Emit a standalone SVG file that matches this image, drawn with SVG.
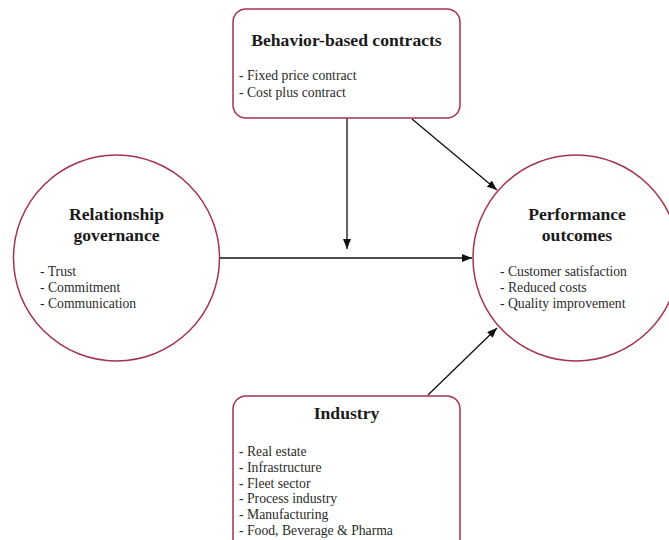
<svg xmlns="http://www.w3.org/2000/svg" width="669" height="540" viewBox="0 0 669 540">
  <defs>
    <marker id="arrow" viewBox="0 0 10 8" refX="10" refY="4" markerWidth="10" markerHeight="8" markerUnits="userSpaceOnUse" orient="auto">
      <path d="M0,0 L10,4 L0,8 Z" fill="#111"/>
    </marker>
    <style>
      .node { fill: #fff; stroke: #a3334f; stroke-width: 1.5; }
      .title { font-family: "Liberation Serif", "Times New Roman", serif; font-weight: bold; font-size: 17.6px; fill: #1a1a1a; text-anchor: middle; }
      .item { font-family: "Liberation Serif", "Times New Roman", serif; font-size: 13.7px; fill: #2a2a2a; }
      .edge { stroke: #111; stroke-width: 1.3; fill: none; marker-end: url(#arrow); }
    </style>
  </defs>
  <rect width="669" height="540" fill="#fff"/>

  <g id="connectors">
    <line class="edge" x1="347" y1="118" x2="347" y2="249"/>
    <line class="edge" x1="220" y1="258" x2="472" y2="258"/>
    <line class="edge" x1="412" y1="119" x2="497" y2="190"/>
    <line class="edge" x1="428" y1="395" x2="497" y2="328"/>
  </g>

  <g id="behavior-based-contracts">
    <rect class="node" x="233" y="9" width="227" height="109" rx="13"/>
    <text class="title" x="346.5" y="46">Behavior-based contracts</text>
    <text class="item" x="239" y="80">- Fixed price contract</text>
    <text class="item" x="239" y="97">- Cost plus contract</text>
  </g>

  <g id="relationship-governance">
    <circle class="node" cx="116.5" cy="258" r="103"/>
    <text class="title" x="116.5" y="220">Relationship</text>
    <text class="title" x="116.5" y="241">governance</text>
    <text class="item" x="40" y="276">- Trust</text>
    <text class="item" x="40" y="292">- Commitment</text>
    <text class="item" x="40" y="308">- Communication</text>
  </g>

  <g id="performance-outcomes">
    <circle class="node" cx="576" cy="258" r="103"/>
    <text class="title" x="577" y="220">Performance</text>
    <text class="title" x="577" y="241">outcomes</text>
    <text class="item" x="500" y="276">- Customer satisfaction</text>
    <text class="item" x="500" y="292">- Reduced costs</text>
    <text class="item" x="500" y="308">- Quality improvement</text>
  </g>

  <g id="industry">
    <rect class="node" x="233" y="396" width="227" height="160" rx="13"/>
    <text class="title" x="346.5" y="419">Industry</text>
    <text class="item" x="239" y="456">- Real estate</text>
    <text class="item" x="239" y="472">- Infrastructure</text>
    <text class="item" x="239" y="488">- Fleet sector</text>
    <text class="item" x="239" y="503">- Process industry</text>
    <text class="item" x="239" y="519">- Manufacturing</text>
    <text class="item" x="239" y="535">- Food, Beverage &amp; Pharma</text>
  </g>
</svg>
